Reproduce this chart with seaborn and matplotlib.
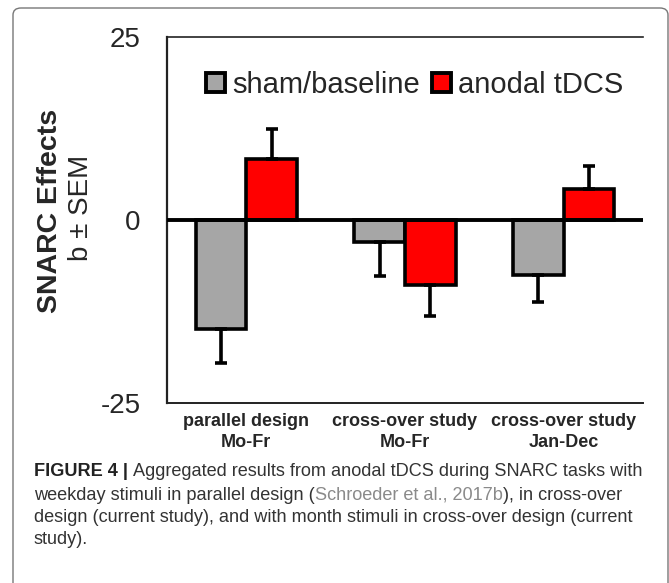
import numpy as np
import pandas as pd
import seaborn as sns
import matplotlib.pyplot as plt
from matplotlib.patches import FancyBboxPatch

groups = ["parallel design\nMo-Fr", "cross-over study\nMo-Fr", "cross-over study\nJan-Dec"]
conditions = ["sham/baseline", "anodal tDCS"]
sham = [-14.9, -3.0, -7.5]
sham_sem = [4.7, 4.7, 3.7]
anodal = [8.4, -8.9, 4.3]
anodal_sem = [4.1, 4.2, 3.1]

df = pd.DataFrame({
    "group": groups * 2,
    "condition": [conditions[0]] * 3 + [conditions[1]] * 3,
    "b": sham + anodal,
})

sns.set_style("white")
plt.rcParams["font.family"] = ["Liberation Sans", "DejaVu Sans"]

fig = plt.figure(figsize=(6.69, 5.83), dpi=100)
ax = fig.add_axes([0.2496, 0.3087, 0.7115, 0.6278])

sns.barplot(data=df, x="group", y="b", hue="condition", order=groups,
            hue_order=conditions, palette={"sham/baseline": "#a6a6a6", "anodal tDCS": "#ff0000"},
            saturation=1, width=0.64, edgecolor="black", linewidth=2.6, errorbar=None, ax=ax)

# one-sided SEM bars, pointing away from zero
for cont, sems in zip(ax.containers, [sham_sem, anodal_sem]):
    for bar, s in zip(cont, sems):
        x = bar.get_x() + bar.get_width() / 2
        h = bar.get_height()
        yerr = [[0], [s]] if h >= 0 else [[s], [0]]
        ax.errorbar([x], [h], yerr=yerr, fmt="none", ecolor="black",
                    elinewidth=2.6, capsize=4, capthick=2.6, zorder=1)

ax.axhline(0, color="black", lw=2.8, zorder=3)

ax.set_xlim(-0.5, 2.5)
ax.set_ylim(-25, 25)
ax.set_yticks(np.arange(-25, 26, 5))
ax.set_yticklabels(["-25" if v == -25 else "0" if v == 0 else "25" if v == 25 else "" for v in range(-25, 26, 5)])
ax.tick_params(axis="y", direction="in", length=6, width=1.2, color="#222", pad=19, labelsize=20)
ax.tick_params(axis="x", length=0, pad=7)
for lab in ax.get_xticklabels():
    lab.set_fontweight("bold")
    lab.set_fontsize(13)
    lab.set_linespacing(1.3)
ax.set_xlabel("")
ax.set_ylabel("")

for side in ["left", "top", "bottom"]:
    ax.spines[side].set_visible(True)
    ax.spines[side].set_color("#222")
ax.spines["left"].set_linewidth(1.6)
ax.spines["top"].set_linewidth(1.2)
ax.spines["bottom"].set_linewidth(1.4)
ax.spines["right"].set_visible(False)

sns.move_legend(ax, "center", bbox_to_anchor=(0.52, 0.869), ncol=2, frameon=False,
                title=None, fontsize=21, handlelength=0.65, handleheight=0.65,
                handletextpad=0.25, columnspacing=0.4, borderaxespad=0)
for h in ax.get_legend().legend_handles:
    h.set_edgecolor("black")
    h.set_linewidth(2.8)

# y label, two lines with different weight
fig.text(50 / 669, 1 - 211 / 583, "SNARC Effects", rotation=90, ha="center", va="center",
         fontsize=20.5, fontweight="bold")
fig.text(81 / 669, 1 - 208 / 583, "b ± SEM", rotation=90, ha="center", va="center",
         fontsize=20)

# caption
fig.canvas.draw()
renderer = fig.canvas.get_renderer()
lines = [
    [("FIGURE 4 | ", "bold", "#222"), ("Aggregated results from anodal tDCS during SNARC tasks with", "normal", "#333")],
    [("weekday stimuli in parallel design (", "normal", "#333"), ("Schroeder et al., 2017b", "normal", "#8a8a8a"),
     ("), in cross-over", "normal", "#333")],
    [("design (current study), and with month stimuli in cross-over design (current", "normal", "#333")],
    [("study).", "normal", "#333")],
]

# pick a size so the first caption line fills the same width as in the figure
probe = sum(fig.text(0, 0, t, fontsize=10, fontweight=w).get_window_extent(renderer).width
            for t, w, c in lines[0])
for t in list(fig.texts)[-len(lines[0]):]:
    t.remove()
cap_size = 10 * 612 / probe

ys = [472, 495, 517, 539]
for parts, yp in zip(lines, ys):
    xp = 34
    for txt, wt, col in parts:
        t = fig.text(xp / 669, 1 - yp / 583, txt, ha="left", va="center", fontsize=cap_size,
                     fontweight=wt, color=col)
        xp += t.get_window_extent(renderer).width

border = FancyBboxPatch((13 / 669, -0.05), 655 / 669, 1 - 8 / 583 + 0.05,
                        boxstyle="round,pad=0,rounding_size=0.012", transform=fig.transFigure,
                        fill=False, edgecolor="#777", lw=1.0)
fig.patches.append(border)

fig.savefig("out.png", dpi=100)
